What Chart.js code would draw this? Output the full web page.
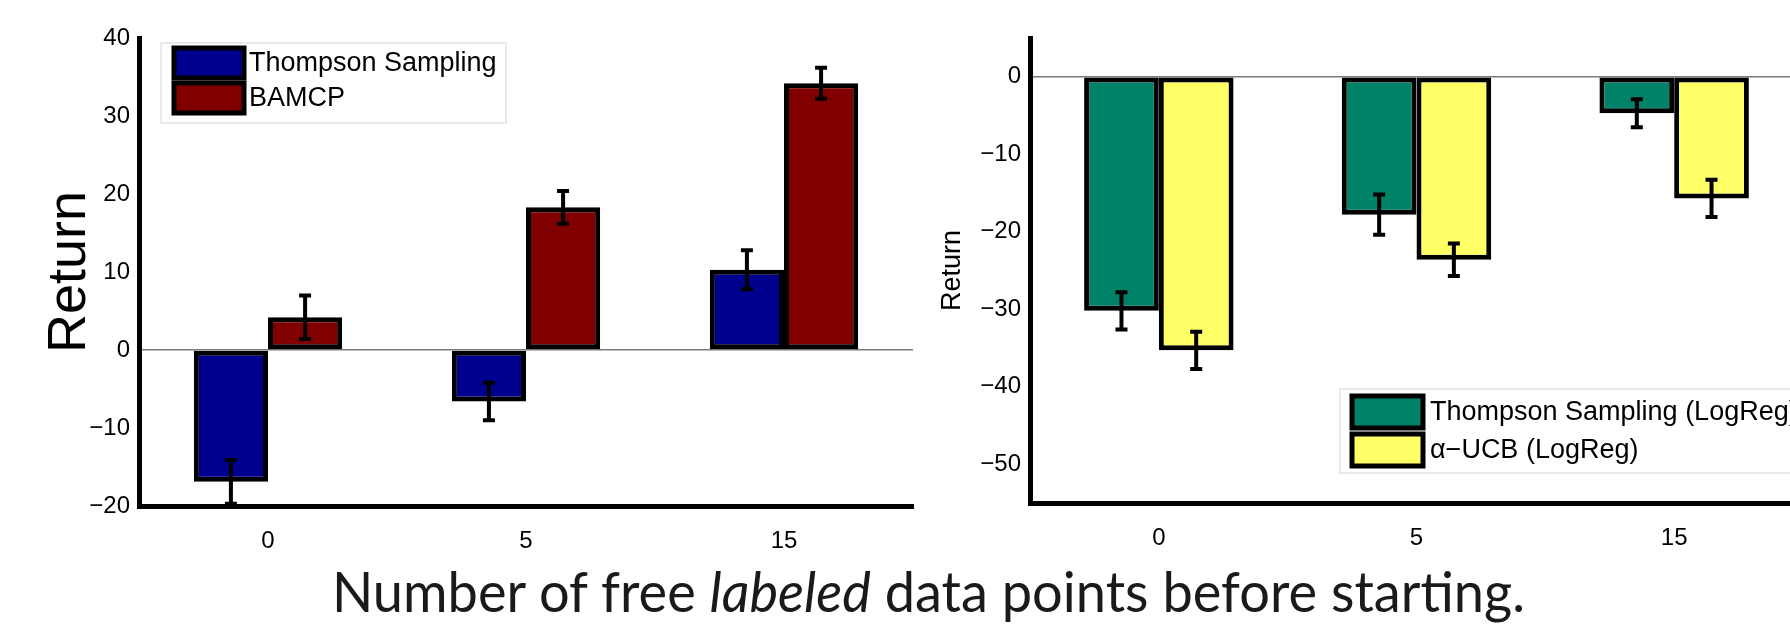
<!DOCTYPE html>
<html>
<head>
<meta charset="utf-8">
<script src="https://cdn.jsdelivr.net/npm/chart.js@4.4.0/dist/chart.umd.min.js"></script>
<style>
html, body { margin: 0; padding: 0; background: #fff; overflow: hidden; width: 1790px; height: 624px; }
#leftCanvas { position: absolute; left: 0; top: 0; }
#rightCanvas { position: absolute; left: 930px; top: 0; }
#caption { position: absolute; left: 0; top: 563px; white-space: nowrap; font-family: Lato, "Open Sans", sans-serif; font-size: 56px; color: #1a1a1a; transform-origin: left top; line-height: 1; }
</style>
</head>
<body>
<canvas id="leftCanvas" width="930" height="560"></canvas>
<canvas id="rightCanvas" width="900" height="560"></canvas>
<div id="caption">Number of free <i>labeled</i> data points before starting.</div>
<script>
// data
const freePoints = ['0', '5', '15'];

const tsReturn = [-16.9, -6.6, 10.3];
const tsErr = [2.8, 2.4, 2.5];
const bamcpReturn = [4.2, 18.3, 34.2];
const bamcpErr = [2.8, 2.1, 2.0];

const tsLogRegReturn = [-30.2, -17.8, -4.7];
const tsLogRegErr = [2.4, 2.6, 1.8];
const ucbReturn = [-35.3, -23.6, -15.7];
const ucbErr = [2.4, 2.1, 2.4];

const leftTicks = [-20, -10, 0, 10, 20, 30, 40];
const rightTicks = [-50, -40, -30, -20, -10, 0];

const FONT = '"Liberation Sans", Arial, sans-serif';

// error bars drawn on top of every bar
const errorBars = {
    id: 'errorBars',
    afterDatasetsDraw(chart) {
        const ctx = chart.ctx;
        const y = chart.scales.y;
        ctx.save();
        ctx.strokeStyle = '#000';
        ctx.lineWidth = 4;
        chart.data.datasets.forEach((ds, i) => {
            const meta = chart.getDatasetMeta(i);
            meta.data.forEach((bar, j) => {
                const top = y.getPixelForValue(ds.data[j] + ds.errors[j]);
                const bot = y.getPixelForValue(ds.data[j] - ds.errors[j]);
                ctx.beginPath();
                ctx.moveTo(bar.x, top); ctx.lineTo(bar.x, bot);
                ctx.moveTo(bar.x - 6, top); ctx.lineTo(bar.x + 6, top);
                ctx.moveTo(bar.x - 6, bot); ctx.lineTo(bar.x + 6, bot);
                ctx.stroke();
            });
        });
        ctx.restore();
    }
};

// matlab style legend box inside the plot
const boxLegend = {
    id: 'boxLegend',
    afterDraw(chart, args, opts) {
        const ctx = chart.ctx;
        ctx.save();
        ctx.fillStyle = '#fff';
        ctx.fillRect(opts.x, opts.y, opts.w, opts.h);
        ctx.strokeStyle = '#e4e4e4';
        ctx.lineWidth = 1.5;
        ctx.strokeRect(opts.x, opts.y, opts.w, opts.h);
        ctx.font = '27px ' + FONT;
        ctx.textBaseline = 'middle';
        chart.data.datasets.forEach((ds, i) => {
            const sy = opts.sy + i * opts.row;
            ctx.fillStyle = ds.backgroundColor;
            ctx.fillRect(opts.sx, sy, opts.sw, opts.sh);
            ctx.strokeStyle = '#000';
            ctx.lineWidth = 5;
            ctx.strokeRect(opts.sx, sy, opts.sw, opts.sh);
            ctx.fillStyle = '#000';
            ctx.fillText(ds.label, opts.tx, sy + opts.sh / 2 + 1);
        });
        ctx.restore();
    }
};

const minus = v => String(v).replace('-', '\u2212');

function makeOptions(cfg) {
    return {
        responsive: false,
        animation: false,
        layout: { padding: { top: 38, right: cfg.padRight, left: 0, bottom: 0 } },
        plugins: {
            legend: { display: false },
            tooltip: { enabled: false },
            boxLegend: cfg.legend
        },
        scales: {
            x: {
                grid: { display: false },
                border: { display: true, color: '#000', width: 5 },
                ticks: { color: '#000', font: { family: FONT, size: 24 }, padding: 13 },
                afterFit(scale) { scale.height = cfg.xHeight; }
            },
            y: {
                min: cfg.min, max: cfg.max,
                afterBuildTicks(scale) { scale.ticks = cfg.ticks.map(v => ({ value: v })); },
                afterFit(scale) { scale.width = cfg.yWidth; },
                grid: {
                    drawTicks: false,
                    lineWidth: 1.5,
                    color: c => (c.tick && c.tick.value === 0 ? '#7a7a7a' : 'rgba(0,0,0,0)')
                },
                border: { display: true, color: '#000', width: 5 },
                ticks: { color: '#000', font: { family: FONT, size: 24 }, padding: 9, callback: v => minus(v) },
                title: {
                    display: true, text: 'Return', color: '#000',
                    font: { family: FONT, size: cfg.titleSize },
                    padding: { top: cfg.titlePad, bottom: 0 }
                }
            }
        }
    };
}

new Chart(document.getElementById('leftCanvas').getContext('2d'), {
    type: 'bar',
    data: {
        labels: freePoints,
        datasets: [
            { label: 'Thompson Sampling', data: tsReturn, errors: tsErr, backgroundColor: '#00008f',
              borderColor: '#000', borderWidth: 5, borderSkipped: false, categoryPercentage: 0.575, barPercentage: 1 },
            { label: 'BAMCP', data: bamcpReturn, errors: bamcpErr, backgroundColor: '#800000',
              borderColor: '#000', borderWidth: 5, borderSkipped: false, categoryPercentage: 0.575, barPercentage: 1 }
        ]
    },
    options: makeOptions({
        padRight: 17, xHeight: 54, yWidth: 139, min: -20, max: 40, ticks: leftTicks,
        titleSize: 54, titlePad: 38,
        legend: { x: 161, y: 43, w: 345, h: 80, sx: 174, sy: 48, sw: 70, sh: 30, row: 35, tx: 249 }
    }),
    plugins: [errorBars, boxLegend]
});

new Chart(document.getElementById('rightCanvas').getContext('2d'), {
    type: 'bar',
    data: {
        labels: freePoints,
        datasets: [
            { label: 'Thompson Sampling (LogReg)', data: tsLogRegReturn, errors: tsLogRegErr, backgroundColor: '#008268',
              borderColor: '#000', borderWidth: 5, borderSkipped: false, categoryPercentage: 0.58, barPercentage: 1 },
            { label: '\u03b1\u2212UCB (LogReg)', data: ucbReturn, errors: ucbErr, backgroundColor: '#ffff66',
              borderColor: '#000', borderWidth: 5, borderSkipped: false, categoryPercentage: 0.58, barPercentage: 1 }
        ]
    },
    options: makeOptions({
        padRight: 27, xHeight: 57, yWidth: 100, min: -55, max: 5, ticks: rightTicks,
        titleSize: 27, titlePad: 6,
        legend: { x: 410, y: 389, w: 520, h: 84, sx: 422, sy: 396, sw: 71, sh: 32, row: 38, tx: 500 }
    }),
    plugins: [errorBars, boxLegend]
});

// stretch the caption to the width it has in the figure, centred under both plots
const cap = document.getElementById('caption');
const w = cap.getBoundingClientRect().width;
const targetW = 1193;
cap.style.transform = 'scaleX(' + (targetW / w) + ')';
cap.style.left = (928 - targetW / 2) + 'px';
</script>
</body>
</html>
